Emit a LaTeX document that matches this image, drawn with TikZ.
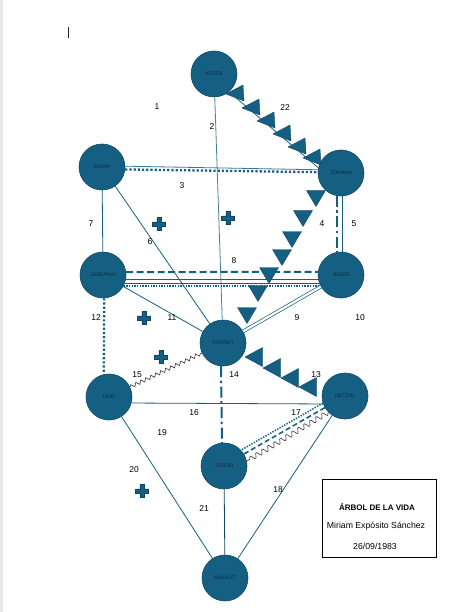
\documentclass[tikz,border=0pt]{standalone}
\usepackage{fontspec}
\setmainfont{Liberation Sans}
\usetikzlibrary{decorations.pathmorphing}
\definecolor{acc}{HTML}{156082}
\definecolor{accd}{HTML}{0F4761}
\definecolor{lbl}{HTML}{0E2841}
\begin{document}
\begin{tikzpicture}[x=1pt,y=-1pt,
  sefira/.style={circle,fill=acc,draw=accd,line width=0.6pt,minimum size=46pt,inner sep=0pt,text=lbl,font=\fontsize{5.2}{6}\selectfont},
  conn/.style={draw=acc,line width=0.8pt},
  num/.style={font=\fontsize{8.5}{10}\selectfont,inner sep=0pt},
  sqdots/.style={draw=acc,line width=2.3pt,dash pattern=on 2.2pt off 2pt},
  finedots/.style={draw=acc,line width=1.5pt,dash pattern=on 1.4pt off 1.3pt},
  dashline/.style={draw=acc,line width=2pt,dash pattern=on 7pt off 3.5pt},
  dashdot/.style={draw=acc,line width=2pt,dash pattern=on 11pt off 3.5pt on 2.5pt off 3.5pt},
  dbl/.style={draw=acc,line width=0.7pt,double=white,double distance=2.2pt},
  wave/.style={draw=black!80,line width=0.6pt,decorate,decoration={snake,amplitude=1.8pt,segment length=5.5pt}},
  tri/.style={fill=acc,draw=accd,line width=0.4pt,line join=round},
  plussign/.style={fill=acc,draw=accd,line width=0.5pt},
  boxtext/.style={inner sep=0pt,font=\fontsize{8.7}{10}\selectfont}
]
\useasboundingbox (0,0) rectangle (453,612);
\fill[white] (0,0) rectangle (453,612);
\fill[gray!18] (0,0) rectangle (3.3,612);
\draw[line width=0.8pt,black!85] (68,27) -- (68,38);

% sefirot
\node[sefira] (Ke) at (214,74) {KETER};
\node[sefira] (Bi) at (102,167) {BINAH};
\node[sefira] (Jo) at (341,173) {JOKMAH};
\node[sefira] (Ge) at (103,275) {GEBURAH};
\node[sefira] (Je) at (341,275) {JESED};
\node[sefira] (Ti) at (223,343) {TIFERET};
\node[sefira] (Ho) at (109,397) {HOD};
\node[sefira] (Ne) at (345,396) {NETZAJ};
\node[sefira] (Ye) at (224,466) {YESOD};
\node[sefira] (Ma) at (225,578) {MALKUT};

% paths
\draw[conn,draw=acc!80] (Ke) -- (Ti);            % 2
\draw[conn] (Ke.-50) -- (Jo.167);                % 22
\draw[conn,draw=acc!85] (Bi.2) -- (Jo.172);      % 3
\draw[sqdots] (Bi.-6) -- (Jo.178);
\draw[conn] (Bi) -- (Ti);                        % 6
\draw[conn] (Bi) -- (Ge);                        % 7
\draw[dashdot] (Jo.-100) -- (Je.100);            % 5
\draw[conn] (Jo.-87) -- (Je.87);
\draw[dashline] (Ge.7.5) -- (Je.172.5);          % 8
\draw[conn] (Ge.-10) -- (Je.190);
\draw[conn] (Ge.-20.4) -- (Je.200.4);
\draw[finedots] (Ge.-28.6) -- (Je.208.6);
\draw[dbl] (Je) -- (Ti);                         % 9
\draw[conn] (Ge) -- (Ti);                        % 11
\draw[sqdots] (Ge.-87) -- (Ho.103);              % 12
\draw[dashdot] (Ti.-95) -- (Ye.95);              % 14
\draw[wave] (Ho) -- (Ti);                        % 15
\draw[conn] (Ho.-15) -- (Ne.200);                % 16
\draw[finedots] (Ne.198) -- (Ye.43);             % 17
\draw[draw=acc,line width=1.6pt,dash pattern=on 5pt off 3pt] (Ne.210) -- (Ye.31);
\draw[wave,decoration={snake,amplitude=2.5pt,segment length=7pt}] (Ne.224) -- (Ye.12);
\draw[conn] (Ne) -- (Ma);                        % 18
\draw[conn] (Ho) -- (Ma);                        % 20
\draw[conn,draw=accd] (Ye) -- (Ma);              % 21

% triangles of 22
\foreach \x/\y in {235/93,251/107,266/120,282/133,297/146,312/157}
  \filldraw[tri] (\x-9,\y+1) -- (\x+8,\y-8) -- (\x+9,\y+8) -- cycle;
% triangles of 4
\foreach \x/\y in {316/198,303/218,292/239,282/257,269/275,258/293,247/315}
  \filldraw[tri] (\x-9.5,\y-7.5) -- (\x+9.5,\y-7.5) -- (\x,\y+8.5) -- cycle;
% triangles of 13
\foreach \x/\y in {254/357,272/368,290/378,308/387}
  \filldraw[tri] (\x-9,\y) -- (\x+8.5,\y-9.5) -- (\x+8.5,\y+9.5) -- cycle;

% plus signs
\foreach \x/\y in {159/224,228/218,144/318,161/357,142/491}
  \filldraw[plussign] (\x-2.25,\y-6.5) -- ++(4.5,0) -- ++(0,4.25) -- ++(4.25,0) -- ++(0,4.5)
    -- ++(-4.25,0) -- ++(0,4.25) -- ++(-4.5,0) -- ++(0,-4.25) -- ++(-4.25,0) -- ++(0,-4.5)
    -- ++(4.25,0) -- cycle;

% numbers
\node[num] (n1) at (157,107) {1};
\node[num] (n2) at (212,127) {2};
\node[num] (n22) at (285,108) {22};
\node[num] (n3) at (182,186) {3};
\node[num] (n7) at (91,224) {7};
\node[num] (n6) at (150,242) {6};
\node[num] (n4) at (322,224) {4};
\node[num] (n5) at (354,224) {5};
\node[num] (n8) at (234,261) {8};
\node[num] (n12) at (96,318) {12};
\node[num] (n11) at (172,318) {11};
\node[num] (n9) at (297,318) {9};
\node[num] (n10) at (360,318) {10};
\node[num] (n15) at (137,375) {15};
\node[num] (n14) at (234,375) {14};
\node[num] (n13) at (316,375) {13};
\node[num] (n16) at (194,413) {16};
\node[num] (n17) at (296,413) {17};
\node[num] (n19) at (162,433) {19};
\node[num] (n20) at (134,470) {20};
\node[num] (n18) at (278,490) {18};
\node[num] (n21) at (204,509) {21};

% title box
\node[draw=black,line width=0.7pt,minimum width=114pt,minimum height=78pt,inner sep=0pt] (box) at (379,518) {};
\node[boxtext,font=\fontsize{8}{10}\selectfont\bfseries] (t1) at (377,507) {ÁRBOL DE LA VIDA};
\node[boxtext] (t2) at (376,526) {Miriam Expósito Sánchez};
\node[boxtext] (t3) at (375,546) {26/09/1983};
\end{tikzpicture}
\end{document}
